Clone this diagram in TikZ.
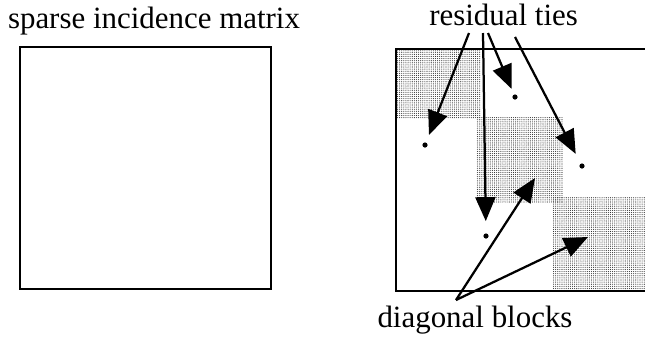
\documentclass[tikz,border=0pt]{standalone}
\usepackage{fontspec}
\setmainfont{Liberation Serif}
\usetikzlibrary{arrows.meta, positioning, calc, patterns.meta}

\tikzdeclarepattern{
  name=finedots, type=uncolored,
  bottom left={(-.1pt,-.1pt)}, top right={(1.5pt,1.5pt)},
  tile size={(1.5pt,1.5pt)},
  code={\fill (0.75pt,0.75pt) circle (0.4pt);}
}

\begin{document}
\begin{tikzpicture}[
  matbox/.style={line width=1.9pt, draw=black},
  diagblock/.style={pattern=finedots, pattern color=black!80},
  tie/.style={circle, fill=black, inner sep=0pt, minimum size=0.13cm},
  lbl/.style={anchor=base, font=\fontsize{22}{26}\selectfont},
  arr/.style={-{Triangle[length=0.6cm, width=0.5cm]}, line width=1.6pt, shorten >=0.2cm}
]
  \useasboundingbox (0,0) rectangle (16.125,-8.45);

  % left: plain matrix
  \node[lbl] (sparse) at (3.85,-0.7) {sparse incidence matrix};
  \draw[matbox] (0.5,-1.175) rectangle (6.775,-7.225);

  % right: blocked matrix
  \fill[diagblock] (9.9,-1.225) rectangle (12.0,-2.95);
  \fill[diagblock] (11.9,-2.925) rectangle (14.075,-5.075);
  \fill[diagblock] (13.825,-4.925) rectangle (16.125,-7.275);
  \draw[matbox] (16.2,-1.225) -- (9.9,-1.225) -- (9.9,-7.275) -- (16.2,-7.275);

  \node[tie] (t1) at (10.625,-3.625) {};
  \node[tie] (t2) at (12.875,-2.425) {};
  \node[tie] (t3) at (14.55,-4.15) {};
  \node[tie] (t4) at (12.15,-5.9) {};

  \node[lbl] (resid) at (12.59,-0.625) {residual ties};
  \node[lbl] (diag) at (11.875,-8.175) {diagonal blocks};

  \coordinate (r1) at (11.725,-0.825);
  \coordinate (r2) at (12.075,-0.825);
  \coordinate (r3) at (12.2,-0.825);
  \coordinate (r4) at (12.875,-0.925);
  \coordinate (d0) at (11.4,-7.5);
  \coordinate (b2) at (13.375,-4.45);
  \coordinate (b3) at (14.7,-5.925);

  \draw[arr] (r1) -- (t1);
  \draw[arr, shorten >=0.3cm] (r2) -- (t4);
  \draw[arr, shorten >=0.15cm] (r3) -- (t2);
  \draw[arr, shorten >=0.27cm] (r4) -- (t3);

  \draw[arr, shorten >=0pt] (d0) -- (b2);
  \draw[arr, shorten >=0pt] (d0) -- (b3);
\end{tikzpicture}
\end{document}
